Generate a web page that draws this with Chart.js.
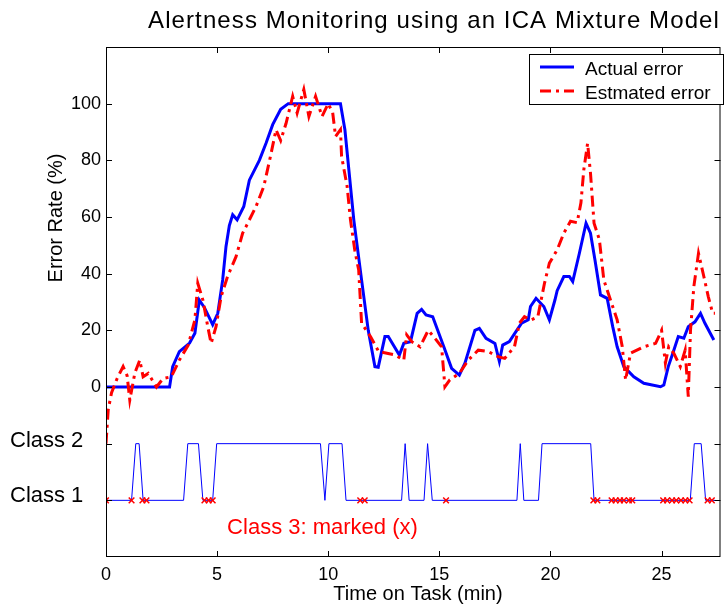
<!DOCTYPE html>
<html>
<head>
<meta charset="utf-8">
<title>Alertness Monitoring</title>
<script src="https://cdn.jsdelivr.net/npm/chart.js@4"></script>
<style>
  html, body { margin: 0; padding: 0; background: #fff; }
</style>
</head>
<body>
<canvas id="alertChart" width="726" height="606"></canvas>
<script>
// time on task (min) and error rate (%)
const actualTime = [0, 2.86, 3.0, 3.3, 3.76, 4.0, 4.2, 4.43, 4.8, 5.03, 5.25, 5.4, 5.55, 5.7, 5.9, 6.2, 6.45, 6.9, 7.2, 7.5, 7.86, 8.2, 10.55, 10.75, 11.15, 11.5, 11.8, 12.1, 12.25, 12.55, 12.7, 13.2, 13.4, 13.7, 14.0, 14.2, 14.4, 14.7, 15.2, 15.55, 15.9, 16.15, 16.6, 16.8, 17.1, 17.5, 17.7, 17.85, 18.15, 18.4, 18.7, 19.0, 19.1, 19.35, 19.7, 19.95, 20.2, 20.3, 20.6, 20.85, 21.0, 21.3, 21.6, 21.8, 22.0, 22.25, 22.55, 22.8, 23.0, 23.3, 23.75, 24.2, 24.95, 25.1, 25.3, 25.55, 25.75, 26.0, 26.2, 26.5, 26.75, 26.95, 27.35];
const actualError = [0, 0, 7.2, 12.5, 15.5, 19, 30.7, 28, 22, 26, 37.8, 49.6, 57, 60.8, 59, 63.7, 73, 80, 86, 92.6, 98, 100, 100, 90.8, 59, 37.8, 20, 7.2, 7, 17.8, 17.8, 11.3, 15.4, 16, 26, 27.4, 25.4, 24.8, 14.2, 6.6, 4.2, 8.4, 20, 20.7, 17.2, 15.4, 9, 14.8, 16, 19, 22.5, 23.7, 28.4, 31.3, 28.4, 23.7, 30.7, 34, 39, 39, 37.2, 47.2, 57.8, 54.3, 44.9, 32.5, 31.3, 21.3, 14.2, 7.2, 3.6, 1.3, 0.1, 0.7, 7.2, 13, 17.8, 17.2, 21.3, 23, 26, 22.5, 16.6];

const estTime = [0, 0.1, 0.25, 0.5, 0.77, 0.95, 1.07, 1.3, 1.52, 1.67, 1.9, 2.27, 2.57, 2.94, 3.3, 3.7, 4.0, 4.13, 4.36, 4.58, 4.73, 4.95, 5.18, 5.47, 5.85, 6.15, 6.3, 6.75, 7.1, 7.4, 7.65, 7.86, 8.1, 8.4, 8.6, 8.9, 9.13, 9.43, 9.72, 10.0, 10.2, 10.33, 10.55, 10.6, 10.85, 11.0, 11.2, 11.37, 11.5, 11.9, 12.27, 12.64, 13.0, 13.4, 13.53, 13.76, 14.13, 14.5, 14.8, 15.1, 15.25, 15.47, 15.9, 16.3, 16.75, 17.2, 17.64, 17.94, 18.38, 18.6, 18.83, 19.13, 19.43, 19.73, 19.95, 20.3, 20.6, 20.9, 21.2, 21.37, 21.5, 21.67, 21.8, 21.96, 22.2, 22.4, 22.7, 23.0, 23.23, 23.38, 23.6, 24.2, 24.73, 25.0, 25.17, 25.32, 25.55, 25.84, 26.06, 26.2, 26.3, 26.45, 26.66, 26.9, 27.1, 27.3, 27.4];
const estError = [-20, -8, -2, 3, 7.2, 4, -4.6, 5, 9.5, 3.6, 4.8, 0, 3, 3.6, 9.5, 14.8, 23.7, 36.6, 30.7, 21.3, 15.4, 21.3, 31.9, 39, 46, 54.3, 56.6, 63.7, 70.8, 81.4, 90.8, 87, 93, 102.6, 96.7, 105, 95.5, 102.6, 95.5, 100, 96.8, 88.4, 90.8, 81.4, 70.8, 59, 48, 41.3, 22.5, 17.8, 12.5, 11.9, 11.3, 9.5, 18.4, 16, 14.2, 20, 17.2, 14.2, 0.1, 2.5, 4.8, 9.5, 13, 12.5, 10.7, 10.1, 14.2, 22.5, 24.8, 23.7, 24.8, 36.6, 43.7, 48.4, 54.3, 58.5, 58, 65, 76.7, 86, 75.5, 57.8, 52, 37.8, 30.7, 23.7, 14.2, 2.5, 11.9, 14.2, 15.4, 20, 8.4, 14.2, 11.9, 7.2, 13, -3.4, 20, 35.4, 47.2, 39, 31.9, 26, 26];

// classifier output: class 1 or 2 over time, class 3 times marked with x
const classTime = [0, 1.15, 1.34, 1.49, 1.67, 3.49, 3.68, 4.16, 4.36, 4.8, 4.98, 9.65, 9.85, 10.03, 10.62, 10.8, 13.3, 13.46, 13.64, 14.31, 14.47, 14.68, 18.49, 18.64, 18.8, 19.46, 19.62, 21.81, 21.96, 26.29, 26.47, 26.78, 26.98, 27.41];
const classNum = [1, 1, 2, 2, 1, 1, 2, 2, 1, 1, 2, 2, 1, 2, 2, 1, 1, 2, 1, 1, 2, 1, 1, 2, 1, 1, 2, 2, 1, 1, 2, 2, 1, 1];
const class3Time = [0, 1.15, 1.64, 1.82, 4.43, 4.62, 4.8, 11.44, 11.64, 15.3, 21.93, 22.11, 22.75, 22.93, 23.13, 23.3, 23.53, 23.68, 25.07, 25.25, 25.47, 25.66, 25.87, 26.07, 26.26, 27.07, 27.26];

const xTicks = [0, 5, 10, 15, 20, 25];
const yTicks = [-40, -20, 0, 20, 40, 60, 80, 100];
const CLASS_Y = { 1: -40, 2: -20 };

const FONT = '"Liberation Sans", Arial, Helvetica, sans-serif';
const TICK_LEN = 6;

const toPoints = (xs, ys) => xs.map((x, i) => ({ x: x, y: ys[i] }));

// axes box, inward ticks, legend and the free text labels
const figureDecor = {
  id: 'figureDecor',
  afterDraw(chart) {
    const { ctx, chartArea: a } = chart;
    const xs = chart.scales.x, ys = chart.scales.y;
    ctx.save();
    ctx.strokeStyle = '#000';
    ctx.lineWidth = 1;
    ctx.strokeRect(a.left + 0.5, a.top + 0.5, a.right - a.left - 1, a.bottom - a.top - 1);

    ctx.beginPath();
    xTicks.forEach(v => {
      const px = Math.round(xs.getPixelForValue(v)) + 0.5;
      ctx.moveTo(px, a.bottom); ctx.lineTo(px, a.bottom - TICK_LEN);
      ctx.moveTo(px, a.top); ctx.lineTo(px, a.top + TICK_LEN);
    });
    yTicks.forEach(v => {
      const py = Math.round(ys.getPixelForValue(v)) + 0.5;
      ctx.moveTo(a.left, py); ctx.lineTo(a.left + TICK_LEN, py);
      ctx.moveTo(a.right, py); ctx.lineTo(a.right - TICK_LEN, py);
    });
    ctx.stroke();

    // legend
    const lg = { left: 529.5, top: 54.5, w: 194, h: 50 };
    ctx.fillStyle = '#fff';
    ctx.fillRect(lg.left, lg.top, lg.w, lg.h);
    ctx.strokeRect(lg.left, lg.top, lg.w, lg.h);
    ctx.font = '19px ' + FONT;
    ctx.textAlign = 'left';
    ctx.textBaseline = 'alphabetic';
    [0, 1].forEach((di, i) => {
      const ds = chart.data.datasets[di];
      const ly = 67 + i * 24;
      ctx.save();
      ctx.strokeStyle = ds.borderColor;
      ctx.lineWidth = ds.borderWidth;
      ctx.setLineDash(ds.borderDash || []);
      ctx.beginPath();
      ctx.moveTo(540, ly); ctx.lineTo(574, ly);
      ctx.stroke();
      ctx.restore();
      ctx.fillStyle = '#000';
      ctx.fillText(ds.label, 585, ly + 8);
    });

    // title and axis labels
    ctx.fillStyle = '#000';
    ctx.textAlign = 'center';
    ctx.save();
    ctx.font = '24px ' + FONT;
    ctx.letterSpacing = '1.1px';
    ctx.fillText('Alertness Monitoring using an ICA Mixture Model', 434, 28);
    ctx.restore();
    ctx.font = '20px ' + FONT;
    ctx.fillText('Time on Task (min)', 418, 600);
    ctx.save();
    ctx.translate(62, 218);
    ctx.rotate(-Math.PI / 2);
    ctx.fillText('Error Rate (%)', 0, 0);
    ctx.restore();

    ctx.textAlign = 'left';
    ctx.font = '22px ' + FONT;
    ctx.fillText('Class 2', 10, 447);
    ctx.fillText('Class 1', 10, 502);
    ctx.fillStyle = '#ff0000';
    ctx.fillText('Class 3: marked (x)', xs.getPixelForValue(5.45), ys.getPixelForValue(-52));
    ctx.restore();
  }
};

document.addEventListener('DOMContentLoaded', function() {
  const ctx = document.getElementById('alertChart').getContext('2d');
  const alertChart = new Chart(ctx, {
    type: 'line',
    data: {
      datasets: [
        {
          label: 'Actual error',
          data: toPoints(actualTime, actualError),
          borderColor: '#0000ff',
          borderWidth: 3,
          pointRadius: 0,
          tension: 0,
          order: 2
        },
        {
          label: 'Estmated error',
          data: toPoints(estTime, estError),
          borderColor: '#ff0000',
          borderWidth: 3,
          borderDash: [11, 5, 3, 5],
          pointRadius: 0,
          tension: 0,
          order: 1
        },
        {
          label: 'Class',
          data: toPoints(classTime, classNum.map(c => CLASS_Y[c])),
          borderColor: '#0000ff',
          borderWidth: 1,
          pointRadius: 0,
          tension: 0,
          order: 3
        },
        {
          label: 'Class 3',
          data: class3Time.map(t => ({ x: t, y: CLASS_Y[1] })),
          showLine: false,
          pointStyle: 'crossRot',
          pointRadius: 4,
          borderColor: '#ff0000',
          borderWidth: 1.5,
          order: 0
        }
      ]
    },
    options: {
      responsive: false,
      animation: false,
      layout: { padding: { left: 0, right: 2, top: 47, bottom: 0 } },
      plugins: {
        legend: { display: false },
        title: { display: false },
        tooltip: { enabled: false }
      },
      scales: {
        x: {
          type: 'linear',
          min: 0,
          max: 27.65,
          border: { display: false },
          grid: { display: false, drawTicks: false },
          ticks: {
            padding: 7,
            color: '#000',
            font: { family: FONT, size: 18 },
            maxRotation: 0
          },
          afterBuildTicks: s => { s.ticks = xTicks.map(v => ({ value: v })); },
          afterFit: s => { s.height = 49; }
        },
        y: {
          type: 'linear',
          min: -60,
          max: 120,
          border: { display: false },
          grid: { display: false, drawTicks: false },
          ticks: {
            padding: 5,
            color: '#000',
            font: { family: FONT, size: 18 },
            callback: v => (v < 0 ? '' : v)
          },
          afterBuildTicks: s => { s.ticks = yTicks.map(v => ({ value: v })); },
          afterFit: s => { s.width = 106; }
        }
      }
    },
    plugins: [figureDecor]
  });
});
</script>
</body>
</html>
